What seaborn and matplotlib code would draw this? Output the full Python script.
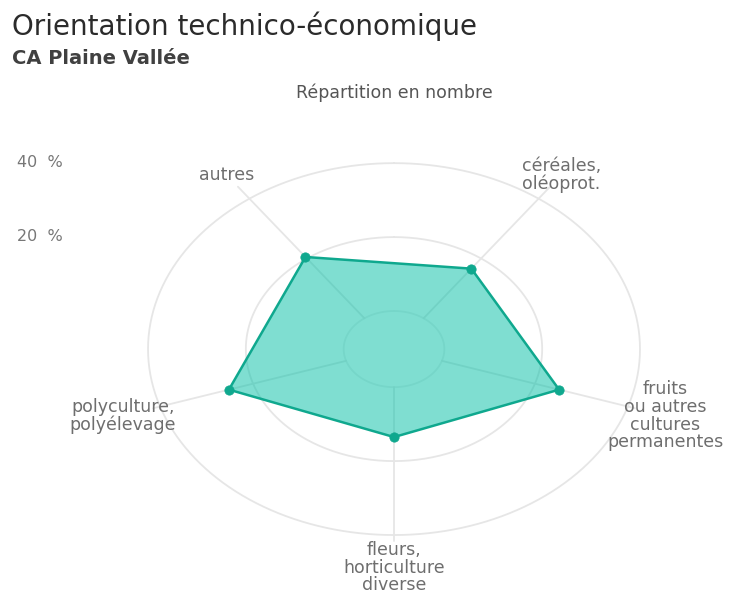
"""
Radar chart: Orientation technico-économique, CA Plaine Vallée.
"""

import numpy as np
import pandas as pd
import matplotlib.pyplot as plt
import seaborn as sns

# data (share of farms, %)
categories = [
    "céréales,\noléoprot.",
    "fruits\nou autres\ncultures\npermanentes",
    "fleurs,\nhorticulture\ndiverse",
    "polyculture,\npolyélevage",
    "autres",
]
values = [16.6, 25.2, 13.5, 25.2, 20.5]
angles_deg = [36, 108, 180, 252, 324]
radial_ticks = [0, 20, 40]
radial_tick_labels = ["", "20  %", "40  %"]

TEAL_FILL = "#00bfa5"
TEAL_LINE = "#0fa88e"
GRID = "#e6e6e6"
TEXT = "#6e6e6e"

sns.set_theme(style="white")
plt.rcParams["font.family"] = ["DejaVu Sans"]

theta = np.deg2rad(angles_deg)
df = pd.DataFrame({"theta": np.append(theta, theta[0] + 2 * np.pi),
                   "value": values + values[:1]})

fig = plt.figure(figsize=(7.31, 5.95), dpi=100)
ax = fig.add_axes([0.2025, 0.1008, 0.673, 0.625], projection="polar")
ax.set_aspect("auto")
ax.set_theta_zero_location("N")
ax.set_theta_direction(-1)
ax.set_ylim(-10.3, 40)
ax.grid(False)
ax.set_xticks([])
ax.set_yticks([])
ax.spines["polar"].set_visible(False)
ax.patch.set_alpha(0)

# circular grid + spokes
ring = np.linspace(0, 2 * np.pi, 361)
for r in radial_ticks:
    c = "#eeeeee" if r == 0 else GRID
    ax.plot(ring, np.full_like(ring, r), color=c, lw=1.3, zorder=1, clip_on=False)
for a in theta:
    r_end = 44 if np.cos(a) > 0 else 41.5
    ax.plot([a, a], [0, r_end], color=GRID, lw=1.3, zorder=1, clip_on=False)

# the series
ax.fill(df["theta"], df["value"], color=TEAL_FILL, alpha=0.5, lw=0, zorder=2)
sns.lineplot(data=df, x="theta", y="value", sort=False, estimator=None,
             color=TEAL_LINE, lw=1.8, ax=ax, zorder=3)
sns.scatterplot(data=df.iloc[:-1], x="theta", y="value", color=TEAL_LINE,
                s=45, edgecolor=TEAL_LINE, ax=ax, zorder=4, clip_on=False)
ax.set_xlabel("")
ax.set_ylabel("")

# category labels
for a, lab in zip(theta, categories):
    r_lab = 48.8 if np.isclose(a, np.pi) else 48
    ax.text(a, r_lab, lab, ha="center", va="center", fontsize=12.5,
            color=TEXT, linespacing=0.98, clip_on=False)

# radial tick labels, left of the chart
for r, lab in zip(radial_ticks, radial_tick_labels):
    if not lab:
        continue
    y_px = 349 - (r + 10.3) * 3.7
    fig.text(17 / 731, 1 - y_px / 595, lab, ha="left", va="center",
             fontsize=11.5, color="#777777")

fig.text(12 / 731, 1 - 26 / 595, "Orientation technico-économique",
         ha="left", va="center", fontsize=20, color="#2b2b2b")
fig.text(12 / 731, 1 - 58 / 595, "CA Plaine Vallée",
         ha="left", va="center", fontsize=14, color="#404040", fontweight="semibold")
fig.text(394 / 731, 1 - 93 / 595, "Répartition en nombre",
         ha="center", va="center", fontsize=12.5, color="#555555")

fig.savefig("out.png", dpi=100)
